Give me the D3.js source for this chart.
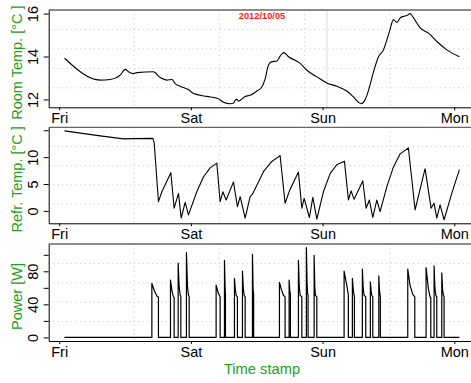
<!DOCTYPE html>
<html><head><meta charset="utf-8">
<script src="https://cdn.jsdelivr.net/npm/d3@7"></script>
<style>body{margin:0;background:#fff}svg{display:block}text{font-family:"Liberation Sans",Arial,sans-serif}</style>
</head><body><svg id="c" width="471" height="383"></svg>
<script>
// ---- data (hours since Fri 2012/10/05 00:00) ----
const chartTitle = "2012/10/05";
const xTitle = "Time stamp";
const dayTicks = [0, 24, 48, 72];
const dayLabels = ["Fri", "Sat", "Sun", "Mon"];

const roomHours = [0.97, 7.47, 9.29, 11.12, 12.03, 12.63, 13.54, 14.16, 17.18, 18.41, 19.63, 20.54, 21.14, 22.05, 22.65, 23.56, 24.47, 26.92, 29.03, 29.94, 31.16, 31.76, 32.07, 32.38, 32.67, 33.9, 34.8, 36.03, 36.94, 37.54, 38.14, 38.76, 39.67, 40.27, 40.87, 41.79, 43.92, 45.14, 46.96, 48.78, 50.6, 52.42, 53.63, 54.54, 54.98, 55.76, 56.37, 57.28, 58.19, 59.1, 59.72, 60.19, 60.92, 61.54, 62.14, 62.74, 63.36, 63.96, 64.57, 65.79, 67.3, 68.83, 70.65, 72.95];
const roomTemp = [13.92, 12.90, 12.93, 13.13, 13.40, 13.29, 13.20, 13.25, 13.29, 13.02, 12.90, 12.93, 12.74, 12.61, 12.55, 12.46, 12.27, 12.14, 12.03, 11.87, 11.80, 11.83, 11.95, 12.00, 11.92, 12.14, 12.19, 12.39, 12.58, 12.97, 13.60, 13.76, 13.79, 14.02, 14.18, 13.99, 13.68, 13.36, 13.05, 12.77, 12.61, 12.39, 12.11, 11.87, 11.80, 11.99, 12.42, 13.28, 13.99, 14.31, 14.78, 15.17, 15.72, 15.59, 15.80, 15.87, 15.91, 16.00, 15.80, 15.33, 15.09, 14.70, 14.31, 13.99];

const refrHours = [0.97, 7.47, 11.72, 13.54, 17.07, 17.31, 18.09, 18.71, 20.35, 20.95, 21.74, 22.23, 22.96, 23.56, 25.09, 26.29, 27.51, 28.73, 29.33, 29.83, 30.43, 31.76, 32.48, 32.98, 33.89, 34.8, 35.29, 37.22, 38.75, 40.26, 41.17, 41.96, 43.6, 44.22, 44.64, 45.6, 46.22, 46.95, 48.15, 49.37, 50.59, 51.98, 52.71, 53.2, 53.74, 55.33, 55.93, 56.53, 57.15, 57.88, 58.48, 59.7, 60.9, 62.12, 63.64, 64.86, 66.68, 67.77, 68.32, 68.81, 69.41, 70.14, 71.54, 72.93];
const refrTemp = [14.89, 13.95, 13.40, 13.45, 13.50, 12.74, 1.71, 3.55, 7.11, 0.50, 3.25, -1.34, 1.60, -0.74, 3.60, 6.30, 8.00, 8.88, 1.71, 3.55, 2.02, 5.39, 0.79, 2.63, -1.34, 2.63, 3.25, 7.30, 9.20, 10.29, 1.41, 3.73, 7.22, 0.50, 2.33, -1.23, 2.52, -1.53, 3.55, 6.93, 8.58, 9.25, 2.02, 3.73, 2.15, 5.57, 0.50, 2.02, -1.23, 2.02, -0.13, 4.47, 8.14, 10.60, 11.71, 0.18, 7.85, 0.50, 1.41, -1.34, 1.10, -1.65, 3.25, 7.67];

const powerHours = [0.97,
 16.89, 16.89, 17.31, 17.80, 18.09, 18.09,
 20.28, 20.28, 20.60, 20.83, 20.95, 20.95,
 21.68, 21.68, 21.85, 22.05, 22.17, 22.17,
 23.19, 23.19, 23.38, 23.56, 23.69, 23.69,
 28.60, 28.60, 28.97, 29.33, 29.33,
 30.12, 30.12, 30.26, 30.30, 30.30,
 31.94, 31.94, 32.10, 32.25, 32.48, 32.48,
 33.40, 33.40, 33.55, 33.70, 33.89, 33.89,
 35.22, 35.22, 35.34, 35.44, 35.44,
 40.14, 40.14, 40.50, 40.86, 41.17, 41.17,
 41.90, 41.90, 42.03, 42.14, 42.14,
 43.60, 43.60, 43.75, 43.91, 44.22, 44.22,
 45.05, 45.05, 45.18, 45.27, 45.36, 45.36,
 46.46, 46.46, 46.58, 46.69, 46.95, 46.95,
 51.92, 51.92, 52.41, 52.70, 52.70,
 53.43, 53.43, 53.60, 53.74, 53.80, 53.80,
 55.25, 55.25, 55.40, 55.56, 55.87, 55.87,
 56.71, 56.71, 56.85, 56.97, 57.15, 57.15,
 58.24, 58.24, 58.36, 58.48, 58.53, 58.53,
 63.52, 63.52, 63.94, 64.44, 64.80, 64.80,
 66.86, 66.86, 67.28, 67.59, 67.72, 67.72,
 68.32, 68.32, 68.47, 68.63, 68.81, 68.81,
 69.72, 69.72, 69.87, 70.01, 70.14, 70.14,
 72.93];
const powerWatts = [0,
 0, 65.4, 57, 50, 48.5, 0,
 0, 69.4, 55, 49, 48, 0,
 0, 90, 62, 51, 50, 0,
 0, 102.6, 62, 51, 50, 0,
 0, 63.3, 54, 49, 0,
 0, 93.4, 55, 52, 0,
 0, 71.4, 58, 51, 49, 0,
 0, 80.2, 60, 51, 49, 0,
 0, 100.6, 58, 52, 0,
 0, 66.6, 58, 51, 49, 0,
 0, 69.4, 56, 52, 0,
 0, 93.4, 62, 51, 49, 0,
 0, 108.7, 65, 53, 51, 0,
 0, 99.4, 62, 51, 49, 0,
 0, 80.2, 63, 51, 0,
 0, 71.4, 58, 51, 50, 0,
 0, 82.6, 60, 51, 49, 0,
 0, 67.3, 56, 51, 49, 0,
 0, 74.5, 58, 51, 50, 0,
 0, 82.6, 63, 52, 49, 0,
 0, 84.6, 59, 49, 48, 0,
 0, 86.5, 60, 51, 49, 0,
 0, 78.1, 58, 51, 49, 0,
 0];

const roomTicks = [12, 14, 16];
const roomLabels = [12, 14, 16];
const refrTicks = [0, 5, 10, 15];
const refrLabels = [0, 5, 10];
const powerTicks = [0, 20, 40, 60, 80, 100];
const powerLabels = [0, 40, 80];
const markerHours = [48.8];

// ---- drawing ----
const green = "#22a022";
const svg = d3.select("#c");
const L = 48.7, R = 475.3;
const pad = ([a, b]) => [a - (b - a) * 0.04, b + (b - a) * 0.04];

const x = d3.scaleLinear()
  .domain(pad(d3.extent(roomHours.concat(refrHours, powerHours))))
  .range([L, R]);

const panels = [
  {top: 10, bottom: 107.3, hours: roomHours, vals: roomTemp, ticks: roomTicks, labels: roomLabels, title: "Room Temp. [°C ]", markers: markerHours, curve: d3.curveMonotoneX, lw: 1.1},
  {top: 127.3, bottom: 223.3, hours: refrHours, vals: refrTemp, ticks: refrTicks, labels: refrLabels, title: "Refr. Temp. [°C ]", markers: [], curve: d3.curveLinear, lw: 1.1},
  {top: 244, bottom: 341, hours: powerHours, vals: powerWatts, ticks: powerTicks, labels: powerLabels, title: "Power [W]", markers: [], curve: d3.curveLinear, lw: 1.2}
];

panels.forEach((p, pi) => {
  const y = d3.scaleLinear().domain(pad(d3.extent(p.vals))).range([p.bottom, p.top]);
  const g = svg.append("g");
  const gw = (R - L) / 5, gh = (p.bottom - p.top) / 5;
  const idx = [1, 2, 3, 4];
  g.selectAll(".vg").data(idx).join("line")
    .attr("x1", i => L + i * gw).attr("x2", i => L + i * gw)
    .attr("y1", p.top).attr("y2", p.bottom)
    .attr("stroke", "#c4c4c4").attr("stroke-dasharray", "1,3.5");
  g.selectAll(".hg").data(idx).join("line")
    .attr("y1", i => p.top + i * gh).attr("y2", i => p.top + i * gh)
    .attr("x1", L).attr("x2", R)
    .attr("stroke", "#c4c4c4").attr("stroke-dasharray", "1,3.5");
  g.selectAll(".mk").data(p.markers).join("line")
    .attr("x1", d => x(d)).attr("x2", d => x(d))
    .attr("y1", p.top).attr("y2", p.bottom)
    .attr("stroke", "#dcdcdc").attr("stroke-width", 1);

  g.append("path")
    .datum(d3.zip(p.hours, p.vals))
    .attr("d", d3.line().curve(p.curve).x(d => x(d[0])).y(d => y(d[1])))
    .attr("fill", "none").attr("stroke", "#000").attr("stroke-width", p.lw)
    .attr("stroke-linejoin", "round");

  g.append("line").attr("x1", L).attr("x2", R).attr("y1", p.top).attr("y2", p.top)
    .attr("stroke", "#666").attr("stroke-width", 1.3);

  const gx = g.append("g").attr("transform", `translate(0,${p.bottom})`)
    .call(d3.axisBottom(x).tickValues(dayTicks).tickFormat((d, i) => dayLabels[i]).tickSize(3).tickSizeOuter(0));
  gx.attr("font-family", null).attr("font-size", null);
  gx.select(".domain").attr("stroke", "#000");
  gx.selectAll(".tick line").attr("stroke", "#000");
  gx.selectAll("text").attr("y", 15.5).attr("dy", null).attr("font-size", 14.5).attr("fill", "#000");

  const gy = g.append("g").attr("transform", `translate(${L},0)`)
    .call(d3.axisLeft(y).tickValues(p.ticks).tickFormat(d => p.labels.includes(d) ? d : "").tickSize(5).tickSizeOuter(0));
  gy.attr("font-family", null).attr("font-size", null);
  gy.select(".domain").attr("stroke", "#000");
  gy.selectAll(".tick line").attr("stroke", "#000");
  gy.selectAll("text").attr("x", null).attr("dy", null)
    .attr("transform", "translate(-10.5,0) rotate(-90)")
    .attr("text-anchor", "middle").attr("font-size", 14.5).attr("fill", "#000");

  svg.append("text")
    .attr("transform", `translate(22,${(p.top + p.bottom) / 2 + 4}) rotate(-90)`)
    .attr("text-anchor", "middle").attr("font-size", 14.5).attr("fill", green)
    .text(p.title);
});

svg.append("text").attr("x", (L + R) / 2).attr("y", 19)
  .attr("text-anchor", "middle").attr("font-size", 9.3).attr("font-weight", "bold")
  .attr("fill", "#ff1a1a").text(chartTitle);

svg.append("text").attr("x", (L + R) / 2).attr("y", 374)
  .attr("text-anchor", "middle").attr("font-size", 14.7).attr("fill", green)
  .text(xTitle);
</script>
</body></html>
